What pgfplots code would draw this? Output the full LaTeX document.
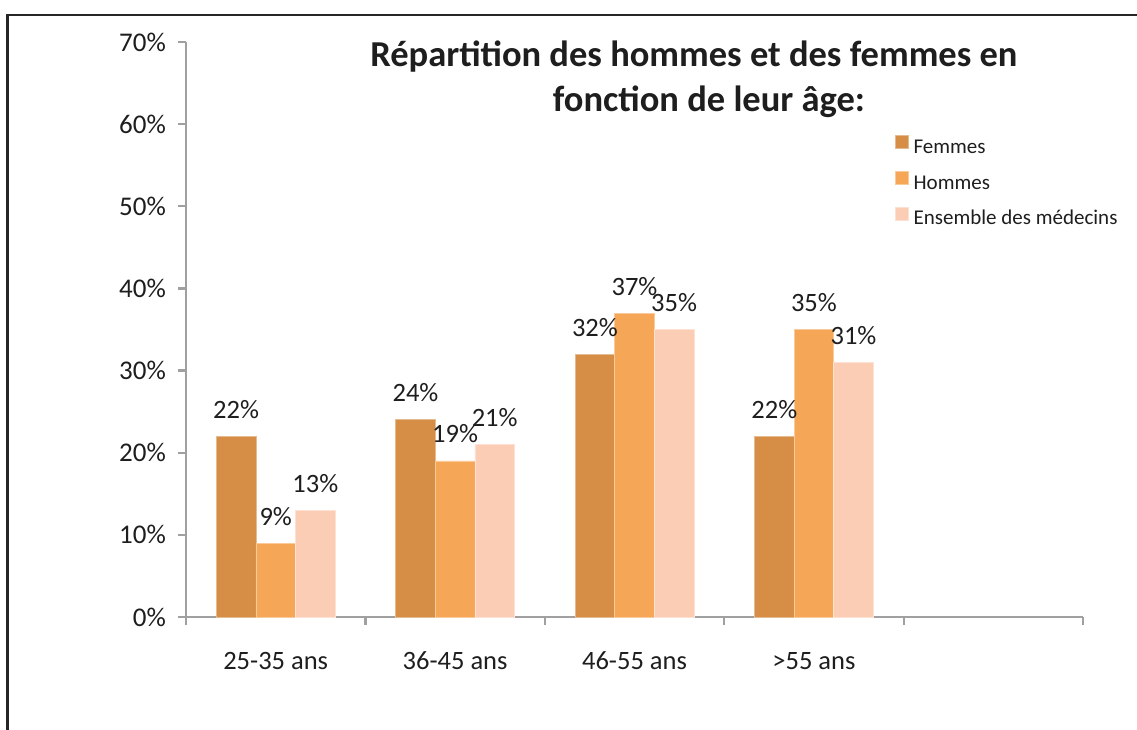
\documentclass[border=0pt]{standalone}
\usepackage{fontspec}
\setmainfont{Carlito}
\usepackage{pgfplots}
\pgfplotsset{compat=1.18}
\definecolor{femmes}{RGB}{214,141,70}
\definecolor{hommes}{RGB}{246,166,87}
\definecolor{ensemble}{RGB}{251,205,180}
\definecolor{axisgray}{RGB}{160,160,160}
\definecolor{txt}{RGB}{30,30,30}
\begin{document}
\begin{tikzpicture}[x=1pt,y=1pt]
\useasboundingbox (0,0) rectangle (1137,729);
\draw[line width=2.6pt, color=black!85] (7.5,-5) -- (7.5,714) -- (1145,714);
\begin{axis}[
  at={(186pt,112pt)}, anchor=south west,
  scale only axis, width=897pt, height=575pt,
  xmin=-0.5, xmax=4.5, ymin=0, ymax=70,
  ybar=0pt, bar width=39.6pt,
  axis x line=bottom, axis y line=left,
  axis line style={-, draw=axisgray, line width=2.2pt},
  every tick/.style={draw=axisgray, line width=2.2pt},
  tick align=outside, major tick length=8pt,
  ytick={0,10,...,70},
  yticklabels={0\%,10\%,20\%,30\%,40\%,50\%,60\%,70\%},
  yticklabel style={font=\fontsize{27}{31}\selectfont, text=txt, inner sep=0pt, anchor=east, xshift=-12pt},
  xtick={-0.5,0.5,1.5,2.5,3.5,4.5},
  xticklabels={},
  extra x ticks={0,1,2,3},
  extra x tick labels={25-35 ans,36-45 ans,46-55 ans,{>55 ans}},
  extra x tick style={major tick length=0pt, xticklabel style={font=\fontsize{26.5}{30}\selectfont, text=txt, inner sep=0pt, anchor=base, yshift=-52pt}},
  /pgf/number format/assume math mode=true,
  nodes near coords={\pgfmathprintnumber{\pgfplotspointmeta}\%},
  every node near coord/.append style={font=\fontsize{26.5}{30}\selectfont, text=txt, inner sep=0pt, anchor=base, yshift=18pt},
  legend cell align=left,
  legend image code/.code={\fill[#1] (0pt,0pt) rectangle (13pt,13pt);},
  legend style={draw=none, fill=none, font=\fontsize{21}{25}\selectfont, text=txt,
    at={(axis description cs:0.79,0.839)}, anchor=north west, inner sep=0pt,
    nodes={inner sep=0pt, text height=15pt, text depth=5pt},
    row sep=12.5pt, column sep=5pt},
  clip=false,
]
\addplot[fill=femmes, draw=femmes!60!white, line width=0.8pt] coordinates {(0,22) (1,24) (2,32) (3,22)};
\addplot[fill=hommes, draw=hommes!60!white, line width=0.8pt] coordinates {(0,9) (1,19) (2,37) (3,35)};
\addplot[fill=ensemble, draw=ensemble!60!white, line width=0.8pt] coordinates {(0,13) (1,21) (2,35) (3,31)};
\legend{Femmes,Hommes,Ensemble des médecins}
\end{axis}
\node[anchor=base, font=\bfseries\fontsize{36.5}{42}\selectfont, text=txt] at (694,662) {Répartition des hommes et des femmes en};
\node[anchor=base, font=\bfseries\fontsize{36.5}{42}\selectfont, text=txt] at (709,617) {fonction de leur âge:};
\end{tikzpicture}
\end{document}
